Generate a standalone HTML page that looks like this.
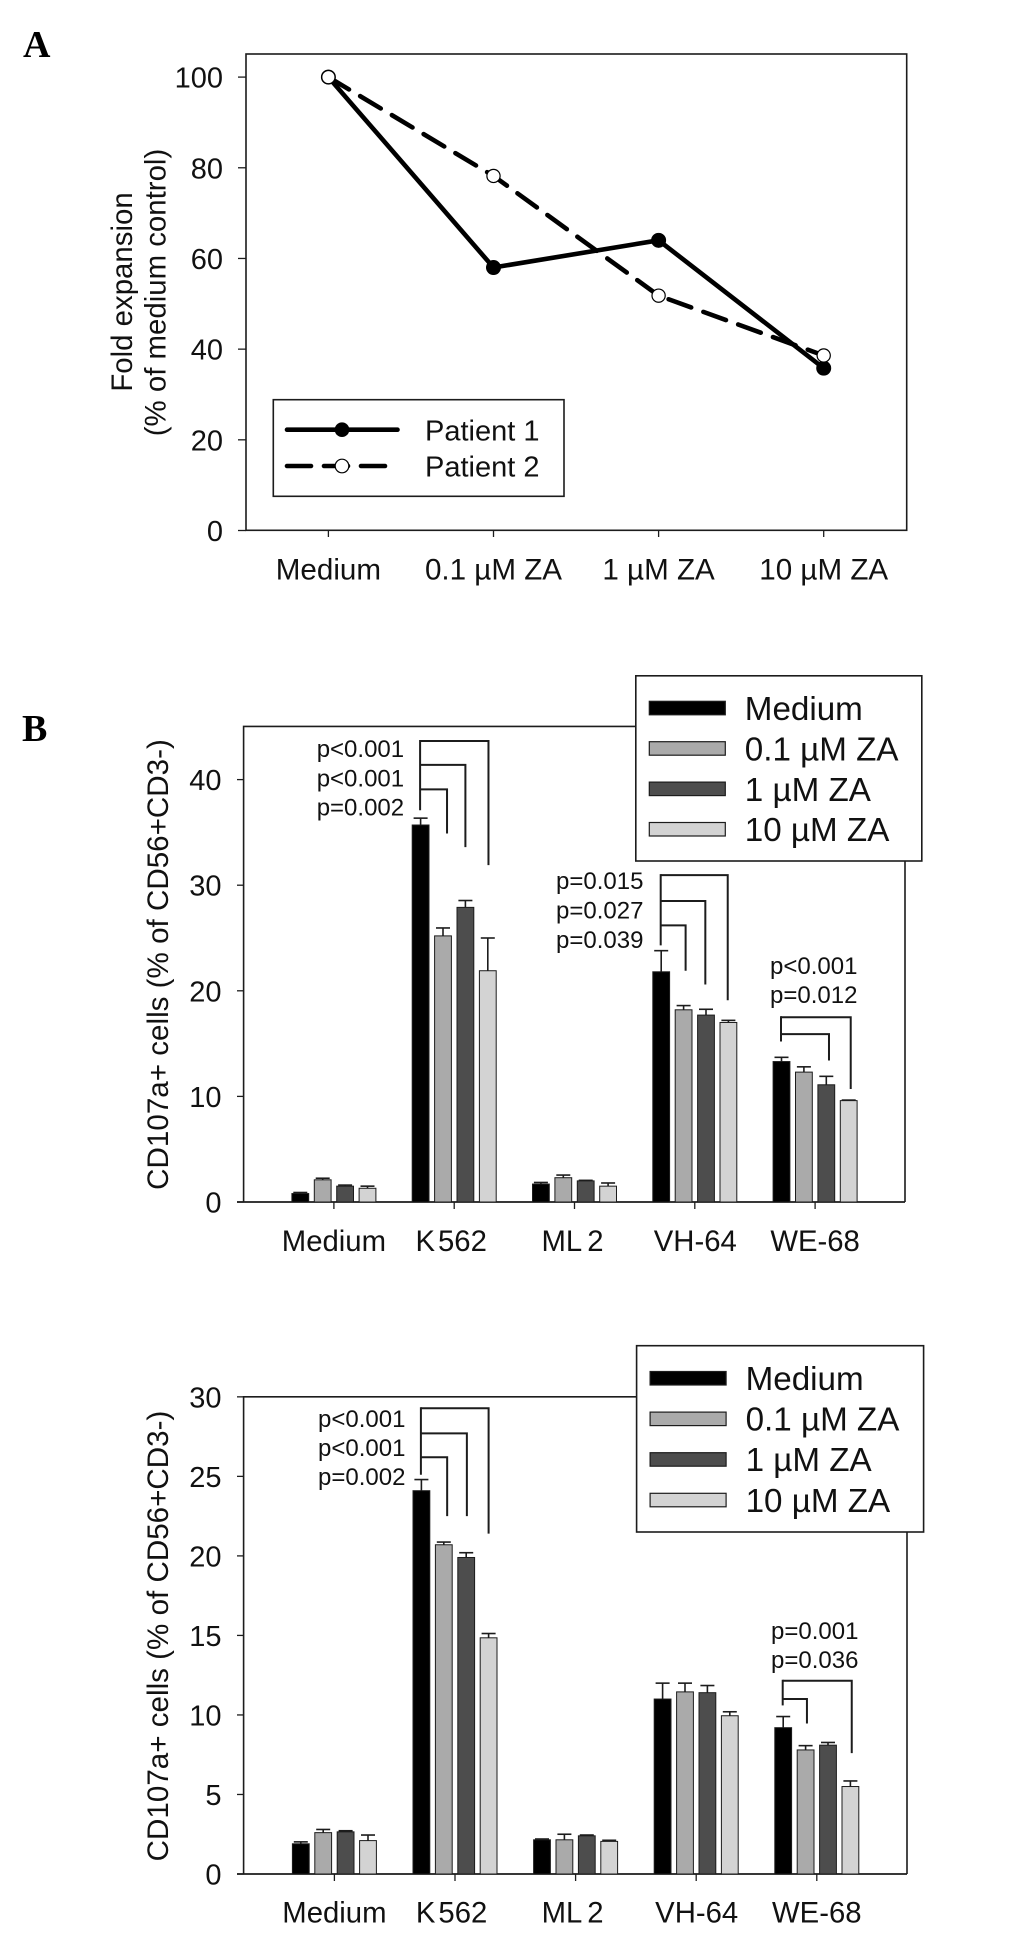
<!DOCTYPE html>
<html lang="en">
<head>
<meta charset="utf-8">
<title>Fold expansion and CD107a+ cells</title>
<style>
html,body{margin:0;padding:0;background:#fff;}
svg{display:block;}
text{font-family:"Liberation Sans",sans-serif;fill:#111;}
.big{font-family:"Liberation Serif",serif;font-weight:bold;font-size:38px;fill:#000;}
</style>
</head>
<body>
<svg id="figure" xmlns="http://www.w3.org/2000/svg" width="1032" height="1946" viewBox="0 0 1032 1946">
  <rect x="0" y="0" width="1032" height="1946" fill="#fff"/>
  <text class="big" x="23" y="57">A</text>
  <text class="big" x="22" y="741">B</text>
  <g id="panelA"></g>
  <g id="panelB1"></g>
  <g id="panelB2"></g>
</svg>
<script>
// ---- Panel A data ----
const lineCategories = ["Medium", "0.1 µM ZA", "1 µM ZA", "10 µM ZA"];
const lineTicks = [0, 20, 40, 60, 80, 100];
const patient1 = [100, 58, 64, 35.8];
const patient2 = [100, 78.2, 51.8, 38.6];

// ---- Panel B shared ----
const barCategories = ["Medium", "K562", "ML2", "VH-64", "WE-68"];
const doseNames = ["Medium", "0.1 µM ZA", "1 µM ZA", "10 µM ZA"];

// ---- Panel B top data (one array per dose, one value per category) ----
const topTicks = [0, 10, 20, 30, 40];
const topMedium = [0.8, 35.7, 1.7, 21.8, 13.3];
const topDose01 = [2.1, 25.2, 2.3, 18.2, 12.3];
const topDose1 = [1.5, 27.9, 2.0, 17.7, 11.1];
const topDose10 = [1.3, 21.9, 1.5, 17.0, 9.6];
const topMediumErr = [0.1, 0.65, 0.15, 2.0, 0.4];
const topDose01Err = [0.15, 0.75, 0.25, 0.4, 0.5];
const topDose1Err = [0.1, 0.65, 0.05, 0.55, 0.8];
const topDose10Err = [0.2, 3.1, 0.3, 0.2, 0.05];

// ---- Panel B bottom data ----
const bottomTicks = [0, 5, 10, 15, 20, 25, 30];
const bottomMedium = [1.9, 24.1, 2.15, 11.0, 9.2];
const bottomDose01 = [2.6, 20.7, 2.15, 11.45, 7.8];
const bottomDose1 = [2.65, 19.9, 2.4, 11.4, 8.1];
const bottomDose10 = [2.1, 14.85, 2.05, 9.95, 5.5];
const bottomMediumErr = [0.12, 0.7, 0.05, 1.0, 0.7];
const bottomDose01Err = [0.2, 0.17, 0.35, 0.55, 0.27];
const bottomDose1Err = [0.07, 0.3, 0.05, 0.45, 0.17];
const bottomDose10Err = [0.35, 0.27, 0.07, 0.25, 0.35];

// ---- Significance annotations: category, left-leg end value, then [end bar, top value, end value] ----
const topBrackets = [
  [1, 37.1, [[3.03, 43.66, 31.9], [2, 41.4, 33.6], [1.18, 39.07, 34.9]]],
  [3, 24.3, [[2.97, 30.95, 19.1], [1.97, 28.5, 20.6], [1.09, 26.2, 21.9]]],
  [4, 15.2, [[3.09, 17.5, 10.7], [2.12, 15.9, 13.4]]]
];
const bottomBrackets = [
  [1, 25.1, [[3.0, 29.28, 21.4], [2.03, 27.7, 22.5], [1.15, 26.2, 22.5]]],
  [4, 10.6, [[3.06, 12.15, 7.6], [1.06, 11.0, 9.46]]]
];
const topPLabels = ["p<0.001", "p<0.001", "p=0.002", "p=0.015", "p=0.027", "p=0.039", "p<0.001", "p=0.012"];
const bottomPLabels = ["p<0.001", "p<0.001", "p=0.002", "p=0.001", "p=0.036"];

const SVGNS = "http://www.w3.org/2000/svg";
const INK = "#1c1c1c";
const doseFills = ["#000000", "#aaaaaa", "#4d4d4d", "#d3d3d3"];

function make(parent, tag, props, content) {
  const node = document.createElementNS(SVGNS, tag);
  for (const key in props) node.setAttribute(key, props[key]);
  if (content !== undefined) node.textContent = content;
  parent.appendChild(node);
  return node;
}

/* ============ Panel A ============ */
(function () {
  const root = document.getElementById("panelA");
  const frame = { l: 246, r: 906.7, t: 54, b: 530.3 };
  const y = v => 530.5 - v * 4.534;
  const x = i => 328.4 + i * 165.1;

  const box = make(root, "rect", { x: frame.l, y: frame.t, width: frame.r - frame.l, height: frame.b - frame.t, fill: "none", stroke: INK, "stroke-width": 1.6 });
  
  

  lineTicks.forEach(t => {
    const mark = make(root, "line", { x1: 238, x2: frame.l, y1: y(t), y2: y(t), stroke: INK, "stroke-width": 1.3 });
    
    
    const label = make(root, "text", { x: 223, y: y(t) + 10.6, "text-anchor": "end", "font-size": 29 }, String(t));
    
    
  });
  lineCategories.forEach((c, i) => {
    const mark = make(root, "line", { x1: x(i), x2: x(i), y1: frame.b, y2: 537, stroke: INK, "stroke-width": 1.3 });
    
    
    const label = make(root, "text", { x: x(i), y: 579.3, "text-anchor": "middle", "font-size": 29.6 }, c);
    
    
  });

  const title1 = make(root, "text", { transform: "translate(132,292) rotate(-90)", "text-anchor": "middle", "font-size": 29.4 }, "Fold expansion");
  
  
  const title2 = make(root, "text", { transform: "translate(165.5,292.5) rotate(-90)", "text-anchor": "middle", "font-size": 29.4 }, "(% of medium control)");
  
  

  const solid = make(root, "polyline", { points: patient1.map((v, i) => x(i) + "," + y(v)).join(" "), fill: "none", stroke: "#000", "stroke-width": 4.6, "stroke-linejoin": "round" });
  
  
  const dashed = make(root, "polyline", { points: patient2.map((v, i) => x(i) + "," + y(v)).join(" "), fill: "none", stroke: "#000", "stroke-width": 4.6, "stroke-dasharray": "24 13", "stroke-linecap": "round" });
  
  

  patient1.forEach((v, i) => {
    const dot = make(root, "circle", { cx: x(i), cy: y(v), r: 7.2, fill: "#000", stroke: "#000", "stroke-width": 0.6 });
    
    
  });
  patient2.forEach((v, i) => {
    const dot = make(root, "circle", { cx: x(i), cy: y(v), r: 6.6, fill: "#fff", stroke: "#000", "stroke-width": 1.2 });
    
    
  });

  const legend = make(root, "g", {});
  
  
  const lbox = make(legend, "rect", { x: 273.3, y: 399.7, width: 290.7, height: 96.6, fill: "#fff", stroke: INK, "stroke-width": 1.6 });
  
  

  const l1 = make(legend, "line", { x1: 287, x2: 397.5, y1: 429.7, y2: 429.7, stroke: "#000", "stroke-width": 4.6, "stroke-linecap": "round" });
  
  
  const m1 = make(legend, "circle", { cx: 342, cy: 429.7, r: 7.3, fill: "#000" });
  
  
  const t1 = make(legend, "text", { x: 425, y: 440.7, "font-size": 29 }, "Patient 1");
  
  

  const l2 = make(legend, "line", { x1: 287, x2: 385, y1: 466, y2: 466, stroke: "#000", "stroke-width": 4.6, "stroke-dasharray": "24 13", "stroke-linecap": "round" });
  
  
  const m2 = make(legend, "circle", { cx: 342, cy: 466, r: 6.8, fill: "#fff", stroke: "#000", "stroke-width": 1.2 });
  
  
  const t2 = make(legend, "text", { x: 425, y: 476.7, "font-size": 29 }, "Patient 2");
  
  
})();

/* ============ Panels B ============ */
function drawBarPanel(cfg) {
  const root = document.getElementById(cfg.id);
  const f = cfg.frame;
  const y = v => f.b - v * cfg.unit;
  const catX = i => cfg.cat0 + i * cfg.catStep;
  const barX = (i, s) => catX(i) + (s - 1.5) * 22.4;

  const top = make(root, "polyline", { points: f.l + "," + f.b + " " + f.l + "," + f.t + " " + f.r + "," + f.t + " " + f.r + "," + f.b, fill: "none", stroke: INK, "stroke-width": 1.6 });
  
  
  const axis = make(root, "line", { x1: 237, x2: f.r, y1: f.b, y2: f.b, stroke: INK, "stroke-width": 1.8 });
  
  

  cfg.ticks.forEach(t => {
    const mark = make(root, "line", { x1: 237, x2: f.l, y1: y(t), y2: y(t), stroke: INK, "stroke-width": 1.3 });
    
    
    const label = make(root, "text", { x: 221.5, y: y(t) + 10.5, "text-anchor": "end", "font-size": 29 }, String(t));
    
    
  });

  barCategories.forEach((c, i) => {
    const mark = make(root, "line", { x1: catX(i), x2: catX(i), y1: f.b, y2: f.b + 7, stroke: INK, "stroke-width": 1.3 });
    
    
    const label = make(root, "text", { x: catX(i) + cfg.labelShift[i], y: cfg.labelY, "text-anchor": "middle", "font-size": 29.3, dx: cfg.labelGaps[i] }, c);
    
    
  });

  const title = make(root, "text", { transform: "translate(168," + cfg.titleY + ") rotate(-90)", "text-anchor": "middle", "font-size": 29.6 }, "CD107a+ cells (% of CD56+CD3-)");
  
  

  cfg.series.forEach((vals, s) => {
    vals.forEach((v, i) => {
      const cx = barX(i, s);
      const e = cfg.errors[s][i];
      const stem = make(root, "line", { x1: cx, x2: cx, y1: y(v), y2: y(v + e), stroke: INK, "stroke-width": 1.6 });
      
      
      const cap = make(root, "line", { x1: cx - 7, x2: cx + 7, y1: y(v + e), y2: y(v + e), stroke: INK, "stroke-width": 1.6 });
      
      
      const bar = make(root, "rect", { x: cx - 8.4, y: y(v), width: 16.8, height: f.b - y(v), fill: doseFills[s], stroke: INK, "stroke-width": 1 });
      
      
    });
  });

  cfg.brackets.forEach(b => {
    const left = barX(b[0], 0) - 0.5;
    let tallest = -Infinity;
    b[2].forEach(arm => {
      tallest = Math.max(tallest, arm[1]);
      const path = make(root, "polyline", { points: left + "," + y(arm[1]) + " " + barX(b[0], arm[0]) + "," + y(arm[1]) + " " + barX(b[0], arm[0]) + "," + y(arm[2]), fill: "none", stroke: INK, "stroke-width": 2 });
      
      
    });
    const leg = make(root, "line", { x1: left, x2: left, y1: y(tallest) - 1, y2: y(b[1]), stroke: INK, "stroke-width": 2 });
    
    
  });

  cfg.pLabels.forEach((p, i) => {
    const pos = cfg.pSpots[i];
    const label = make(root, "text", { x: pos[0], y: pos[1], "font-size": 24 }, p);
    
    
  });

  const legend = make(root, "g", {});
  
  
  const L = cfg.legend;
  const lbox = make(legend, "rect", { x: L.x, y: L.y, width: L.w, height: L.h, fill: "#fff", stroke: INK, "stroke-width": 1.6 });
  
  
  doseNames.forEach((d, i) => {
    const sw = make(legend, "rect", { x: L.x + 13.5, y: L.swatchY + i * L.step, width: 76, height: 13.5, fill: doseFills[i], stroke: INK, "stroke-width": 1.2 });
    
    
    const tx = make(legend, "text", { x: L.x + 109, y: L.textY + i * L.step, "font-size": 33.2 }, d);
    
    
  });
}

drawBarPanel({
  id: "panelB1",
  frame: { l: 243.6, r: 905, t: 726.4, b: 1202 },
  unit: 10.56,
  ticks: topTicks,
  cat0: 333.9,
  catStep: 120.3,
  labelShift: [0, -3, -2, 0.5, 0],
  labelGaps: ["0", "0 3", "0 0 5", "0", "0"],
  labelY: 1251,
  titleY: 964.5,
  series: [topMedium, topDose01, topDose1, topDose10],
  errors: [topMediumErr, topDose01Err, topDose1Err, topDose10Err],
  brackets: topBrackets,
  pLabels: topPLabels,
  pSpots: [[316.7, 757], [316.7, 786.5], [316.7, 815.4], [556, 889], [556, 918.6], [556, 948], [770, 974], [770, 1003]],
  legend: { x: 635.8, y: 675.8, w: 286, h: 185.2, swatchY: 701.3, textY: 720, step: 40.4 }
});

drawBarPanel({
  id: "panelB2",
  frame: { l: 243.6, r: 907, t: 1396.8, b: 1874 },
  unit: 15.905,
  ticks: bottomTicks,
  cat0: 334.4,
  catStep: 120.6,
  labelShift: [0, -3.4, -3, 0.5, 0],
  labelGaps: ["0", "0 3", "0 0 5", "0", "0"],
  labelY: 1922.5,
  titleY: 1636,
  series: [bottomMedium, bottomDose01, bottomDose1, bottomDose10],
  errors: [bottomMediumErr, bottomDose01Err, bottomDose1Err, bottomDose10Err],
  brackets: bottomBrackets,
  pLabels: bottomPLabels,
  pSpots: [[318, 1427], [318, 1456], [318, 1485], [771, 1639], [771, 1668]],
  legend: { x: 636.6, y: 1345.7, w: 287, h: 186.3, swatchY: 1371.5, textY: 1390, step: 40.6 }
});
</script>
</body>
</html>
